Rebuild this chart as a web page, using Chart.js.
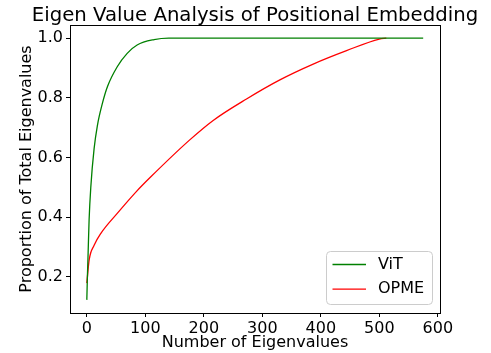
<!DOCTYPE html>
<html>
<head>
<meta charset="utf-8">
<script src="https://cdn.jsdelivr.net/npm/chart.js@4/dist/chart.umd.min.js"></script>
<style>
    html, body { margin: 0; padding: 0; background: #fff; }
    #wrap { width: 491px; height: 353px; }
</style>
</head>
<body>
<div id="wrap"><canvas id="eigChart"></canvas></div>
<script>
// values
const chartTitle = "Eigen Value Analysis of Positional Embedding";
const vitX = [0, 1, 2.2, 3.9, 6.8, 12.5, 18, 26.6, 35.2, 52, 69, 86, 115, 140, 575];
const vitY = [0.122, 0.2, 0.278, 0.39, 0.5, 0.63, 0.706, 0.781, 0.837, 0.904, 0.949, 0.977, 0.995, 1.0, 1.0];
const opmeX = [0, 4, 12.5, 24, 52, 85, 109, 175, 216, 273, 330, 387, 444, 500, 512];
const opmeY = [0.178, 0.256, 0.305, 0.345, 0.412, 0.486, 0.534, 0.657, 0.724, 0.796, 0.86, 0.913, 0.958, 0.997, 1.0];
const xTicks = [0, 100, 200, 300, 400, 500, 600];
const yTicks = [0.2, 0.4, 0.6, 0.8, 1.0];

const FONT = "'DejaVu Sans', sans-serif";

function toPoints(xs, ys) {
    return xs.map((x, i) => ({ x: x, y: ys[i] }));
}

// box round the plot, like matplotlib spines, plus the title over the axes
const frame = {
    id: "frame",
    afterDatasetsDraw(chart) {
        const { ctx, chartArea: a } = chart;
        ctx.save();
        ctx.strokeStyle = "#000";
        ctx.lineWidth = 1;
        ctx.strokeRect(Math.round(a.left) + 0.5, Math.round(a.top) + 0.5,
            Math.round(a.right - a.left), Math.round(a.bottom - a.top));
        ctx.fillStyle = "#000";
        ctx.font = "19.7px " + FONT;
        ctx.textAlign = "center";
        ctx.textBaseline = "alphabetic";
        ctx.fillText(chartTitle, (a.left + a.right) / 2, a.top - 4.5);
        ctx.restore();
    },
};

// legend in the lower right corner of the plot
const cornerLegend = {
    id: "cornerLegend",
    afterDatasetsDraw(chart) {
        const { ctx, chartArea: a } = chart;
        const w = 106, h = 53;
        const x0 = a.right - 8 - w, y0 = a.bottom - 9 - h;
        ctx.save();
        ctx.beginPath();
        ctx.roundRect(x0 + 0.5, y0 + 0.5, w, h, 4);
        ctx.fillStyle = "rgba(255,255,255,0.8)";
        ctx.fill();
        ctx.strokeStyle = "#cccccc";
        ctx.lineWidth = 1;
        ctx.stroke();
        ctx.font = "16px " + FONT;
        ctx.textBaseline = "middle";
        chart.data.datasets.forEach((ds, i) => {
            const y = y0 + 13.5 + i * 24.7;
            ctx.strokeStyle = ds.borderColor;
            ctx.lineWidth = ds.borderWidth;
            ctx.beginPath();
            ctx.moveTo(x0 + 6.5, y);
            ctx.lineTo(x0 + 40, y);
            ctx.stroke();
            ctx.fillStyle = "#000";
            ctx.fillText(ds.label, x0 + 52, y);
        });
        ctx.restore();
    },
};

new Chart(document.getElementById("eigChart"), {
    type: "line",
    data: {
        datasets: [
            {
                label: "ViT",
                data: toPoints(vitX, vitY),
                borderColor: "#008000",
                borderWidth: 1.3,
                pointRadius: 0,
                cubicInterpolationMode: "monotone",
                fill: false,
            },
            {
                label: "OPME",
                data: toPoints(opmeX, opmeY),
                borderColor: "#ff0000",
                borderWidth: 1.3,
                pointRadius: 0,
                cubicInterpolationMode: "monotone",
                fill: false,
            },
        ],
    },
    options: {
        responsive: true,
        maintainAspectRatio: false,
        animation: false,
        layout: { padding: { top: 25, right: 51, bottom: 0, left: 0 } },
        plugins: {
            legend: { display: false },
            tooltip: { enabled: false },
            title: { display: false },
        },
        scales: {
            x: {
                type: "linear",
                min: -28.75,
                max: 603.75,
                afterBuildTicks: (s) => { s.ticks = xTicks.map((v) => ({ value: v })); },
                afterFit: (s) => { s.height = 40; },
                grid: { drawOnChartArea: false, drawTicks: true, tickLength: 4, color: "#000" },
                border: { display: true, color: "#000" },
                ticks: {
                    color: "#000",
                    padding: 2,
                    maxRotation: 0,
                    font: { family: FONT, size: 16 },
                },
                title: {
                    display: true,
                    text: "Number of Eigenvalues",
                    color: "#000",
                    font: { family: FONT, size: 16 },
                    padding: { top: 0, bottom: 0.5 },
                },
            },
            y: {
                type: "linear",
                min: 0.078,
                max: 1.044,
                afterBuildTicks: (s) => { s.ticks = yTicks.map((v) => ({ value: v })); },
                afterFit: (s) => { s.width = 70; },
                grid: { drawOnChartArea: false, drawTicks: true, tickLength: 4, color: "#000" },
                border: { display: true, color: "#000" },
                ticks: {
                    color: "#000",
                    padding: 3,
                    font: { family: FONT, size: 16 },
                    callback: (v) => v.toFixed(1),
                },
                title: {
                    display: true,
                    text: "Proportion of Total Eigenvalues",
                    color: "#000",
                    font: { family: FONT, size: 16 },
                    padding: { top: 17.5, bottom: 0 },
                },
            },
        },
    },
    plugins: [frame, cornerLegend],
});
</script>
</body>
</html>
